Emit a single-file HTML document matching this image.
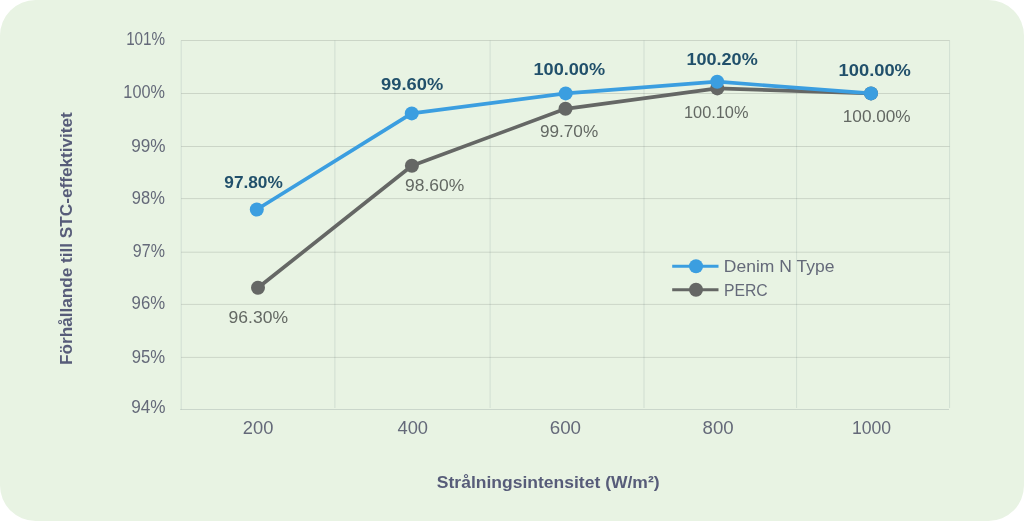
<!DOCTYPE html>
<html><head><meta charset="utf-8"><title>Chart</title><style>
html,body{margin:0;padding:0;background:#fff;}
svg{display:block;font-family:"Liberation Sans", Arial, sans-serif;}
</style></head><body>
<svg width="1024" height="521" viewBox="0 0 1024 521">
<rect x="0" y="0" width="1024" height="521" rx="35.5" ry="35.5" fill="#e8f3e3"/>
<line x1="181.2" y1="40.5" x2="181.2" y2="409.5" stroke="rgba(30,60,80,0.11)" stroke-width="1"/>
<line x1="334.9" y1="40.5" x2="334.9" y2="408.0" stroke="rgba(30,60,80,0.11)" stroke-width="1"/>
<line x1="490.1" y1="40.5" x2="490.1" y2="408.0" stroke="rgba(30,60,80,0.11)" stroke-width="1"/>
<line x1="644.0" y1="40.5" x2="644.0" y2="408.0" stroke="rgba(30,60,80,0.11)" stroke-width="1"/>
<line x1="796.6" y1="40.5" x2="796.6" y2="408.0" stroke="rgba(30,60,80,0.11)" stroke-width="1"/>
<line x1="949.6" y1="40.5" x2="949.6" y2="408.0" stroke="rgba(30,60,80,0.11)" stroke-width="1"/>
<line x1="181.2" y1="40.5" x2="949.6" y2="40.5" stroke="rgba(0,0,0,0.12)" stroke-width="1"/>
<line x1="181.2" y1="93.5" x2="949.6" y2="93.5" stroke="rgba(0,0,0,0.12)" stroke-width="1"/>
<line x1="181.2" y1="146.5" x2="949.6" y2="146.5" stroke="rgba(0,0,0,0.12)" stroke-width="1"/>
<line x1="181.2" y1="198.6" x2="949.6" y2="198.6" stroke="rgba(0,0,0,0.12)" stroke-width="1"/>
<line x1="181.2" y1="252.2" x2="949.6" y2="252.2" stroke="rgba(0,0,0,0.12)" stroke-width="1"/>
<line x1="181.2" y1="304.4" x2="949.6" y2="304.4" stroke="rgba(0,0,0,0.12)" stroke-width="1"/>
<line x1="181.2" y1="357.4" x2="949.6" y2="357.4" stroke="rgba(0,0,0,0.12)" stroke-width="1"/>
<line x1="180.2" y1="409.5" x2="949.0" y2="409.5" stroke="rgba(20,40,60,0.14)" stroke-width="1"/>
<polyline points="258.0,287.8 411.9,165.7 565.5,108.8 717.3,88.4 871.0,93.4" fill="none" stroke="#656765" stroke-width="3.7" stroke-linejoin="round"/>
<circle cx="258.0" cy="287.8" r="7.0" fill="#656765"/>
<circle cx="411.9" cy="165.7" r="7.0" fill="#656765"/>
<circle cx="565.5" cy="108.8" r="7.0" fill="#656765"/>
<circle cx="717.3" cy="88.4" r="7.0" fill="#656765"/>
<circle cx="871.0" cy="93.4" r="7.0" fill="#656765"/>
<polyline points="256.8,209.5 411.75,113.4 565.7,93.4 717.2,81.7 871.0,93.4" fill="none" stroke="#3b9ee0" stroke-width="3.7" stroke-linejoin="round"/>
<circle cx="256.8" cy="209.5" r="7.0" fill="#3b9ee0"/>
<circle cx="411.75" cy="113.4" r="7.0" fill="#3b9ee0"/>
<circle cx="565.7" cy="93.4" r="7.0" fill="#3b9ee0"/>
<circle cx="717.2" cy="81.7" r="7.0" fill="#3b9ee0"/>
<circle cx="871.0" cy="93.4" r="7.0" fill="#3b9ee0"/>
<line x1="672.2" y1="266.2" x2="718.5" y2="266.2" stroke="#3b9ee0" stroke-width="3"/>
<circle cx="696" cy="266.2" r="7.0" fill="#3b9ee0"/>
<line x1="672.2" y1="289.7" x2="718.5" y2="289.7" stroke="#656765" stroke-width="3"/>
<circle cx="696" cy="289.7" r="7.0" fill="#656765"/>
<text x="126.13" y="45.00" font-size="17.50" fill="#646979" textLength="38.94" lengthAdjust="spacingAndGlyphs">101%</text>
<text x="123.37" y="98.00" font-size="17.50" fill="#646979" textLength="41.55" lengthAdjust="spacingAndGlyphs">100%</text>
<text x="131.19" y="152.00" font-size="17.50" fill="#646979" textLength="34.33" lengthAdjust="spacingAndGlyphs">99%</text>
<text x="131.86" y="204.00" font-size="17.50" fill="#646979" textLength="33.00" lengthAdjust="spacingAndGlyphs">98%</text>
<text x="132.87" y="257.00" font-size="17.50" fill="#646979" textLength="32.04" lengthAdjust="spacingAndGlyphs">97%</text>
<text x="131.59" y="309.00" font-size="17.50" fill="#646979" textLength="33.54" lengthAdjust="spacingAndGlyphs">96%</text>
<text x="131.71" y="363.00" font-size="17.50" fill="#646979" textLength="33.46" lengthAdjust="spacingAndGlyphs">95%</text>
<text x="131.19" y="413.00" font-size="17.50" fill="#646979" textLength="34.33" lengthAdjust="spacingAndGlyphs">94%</text>
<text x="242.83" y="434.00" font-size="17.50" fill="#646979" textLength="30.55" lengthAdjust="spacingAndGlyphs">200</text>
<text x="397.45" y="434.00" font-size="17.50" fill="#646979" textLength="30.60" lengthAdjust="spacingAndGlyphs">400</text>
<text x="549.74" y="434.00" font-size="17.50" fill="#646979" textLength="31.34" lengthAdjust="spacingAndGlyphs">600</text>
<text x="702.57" y="434.00" font-size="17.50" fill="#646979" textLength="31.10" lengthAdjust="spacingAndGlyphs">800</text>
<text x="851.98" y="434.00" font-size="17.50" fill="#646979" textLength="39.18" lengthAdjust="spacingAndGlyphs">1000</text>
<text x="224.31" y="188.00" font-size="17.20" font-weight="bold" fill="#21506b" textLength="58.45" lengthAdjust="spacingAndGlyphs">97.80%</text>
<text x="381.13" y="90.00" font-size="17.20" font-weight="bold" fill="#21506b" textLength="62.04" lengthAdjust="spacingAndGlyphs">99.60%</text>
<text x="533.45" y="75.00" font-size="17.20" font-weight="bold" fill="#21506b" textLength="71.66" lengthAdjust="spacingAndGlyphs">100.00%</text>
<text x="686.48" y="65.00" font-size="17.20" font-weight="bold" fill="#21506b" textLength="71.23" lengthAdjust="spacingAndGlyphs">100.20%</text>
<text x="838.61" y="76.00" font-size="17.20" font-weight="bold" fill="#21506b" textLength="72.29" lengthAdjust="spacingAndGlyphs">100.00%</text>
<text x="228.60" y="323.00" font-size="17.20" fill="#636863" textLength="59.43" lengthAdjust="spacingAndGlyphs">96.30%</text>
<text x="405.08" y="191.00" font-size="17.20" fill="#636863" textLength="59.22" lengthAdjust="spacingAndGlyphs">98.60%</text>
<text x="539.96" y="137.00" font-size="17.20" fill="#636863" textLength="58.18" lengthAdjust="spacingAndGlyphs">99.70%</text>
<text x="683.97" y="118.00" font-size="17.20" fill="#636863" textLength="64.45" lengthAdjust="spacingAndGlyphs">100.10%</text>
<text x="842.79" y="122.00" font-size="17.20" fill="#636863" textLength="67.89" lengthAdjust="spacingAndGlyphs">100.00%</text>
<text x="723.88" y="272.00" font-size="17.00" fill="#646979" textLength="110.54" lengthAdjust="spacingAndGlyphs">Denim N Type</text>
<text x="723.94" y="296.00" font-size="17.00" fill="#646979" textLength="43.80" lengthAdjust="spacingAndGlyphs">PERC</text>
<text x="436.86" y="488.00" font-size="17.00" font-weight="bold" fill="#575c79" textLength="222.72" lengthAdjust="spacingAndGlyphs">Strålningsintensitet (W/m²)</text>
<text transform="translate(72.20,365.00) rotate(-90)" x="0" y="0" font-size="17.00" font-weight="bold" fill="#575c79" textLength="252.80" lengthAdjust="spacingAndGlyphs">Förhållande till STC-effektivitet</text>
</svg>
</body></html>
